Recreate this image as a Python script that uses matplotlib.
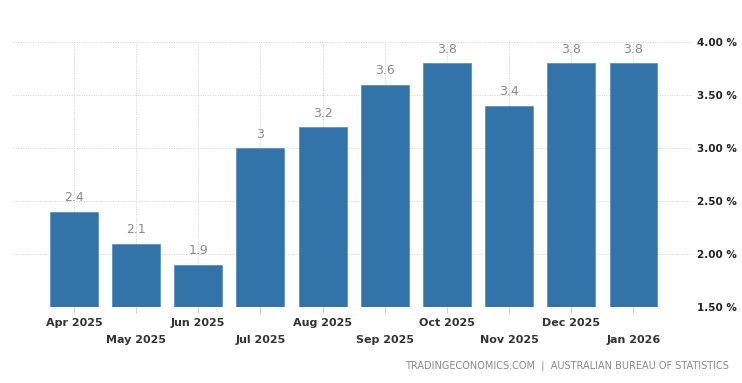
import numpy as np
import matplotlib.pyplot as plt

months = ['Apr 2025', 'May 2025', 'Jun 2025', 'Jul 2025', 'Aug 2025',
          'Sep 2025', 'Oct 2025', 'Nov 2025', 'Dec 2025', 'Jan 2026']
rates = [2.4, 2.1, 1.9, 3.0, 3.2, 3.6, 3.8, 3.4, 3.8, 3.8]
rate_labels = ['2.4', '2.1', '1.9', '3', '3.2', '3.6', '3.8', '3.4', '3.8', '3.8']
yticks = [1.5, 2.0, 2.5, 3.0, 3.5, 4.0]

fig = plt.figure(figsize=(7.42, 3.83), dpi=100)
ax = fig.add_axes([0.0175, 0.198, 0.915, 0.692])

x = np.arange(len(months))
base = 1.5
ax.bar(x, np.array(rates) - base, bottom=base, width=0.77, color='#3274a9',
       edgecolor='#5b93c2', linewidth=0.6, zorder=3)

for xi, v, lab in zip(x, rates, rate_labels):
    ax.text(xi, v + 0.07, lab, ha='center', va='bottom', fontsize=9,
            color='#8a8a8a', zorder=4)

ax.set_xlim(-0.98, 9.94)
ax.set_ylim(1.5, 4.0)
ax.set_yticks(yticks)
ax.set_yticklabels(['%.2f %%' % t for t in yticks])
ax.yaxis.tick_right()
ax.tick_params(axis='y', length=0, pad=4, labelsize=7.5, labelcolor='#222222')

ax.set_xticks(x)
ax.set_xticklabels([m if i % 2 == 0 else '\n' + m for i, m in enumerate(months)])
ax.tick_params(axis='x', length=4, color='#cccccc', labelsize=8,
               labelcolor='#333333', pad=4)
for i, lab in enumerate(ax.get_xticklabels()):
    lab.set_fontweight('semibold')
    if i % 2 == 1:
        lab.set_linespacing(1.9)
for lab in ax.get_yticklabels():
    lab.set_fontweight('semibold')

ax.grid(True, linestyle=(0, (1, 1.5)), color='#cfcfcf', linewidth=0.7, zorder=0)
for s in ax.spines.values():
    s.set_visible(False)

fig.text(0.983, 0.032, 'TRADINGECONOMICS.COM  |  AUSTRALIAN BUREAU OF STATISTICS',
         ha='right', va='bottom', fontsize=7, color='#8a8a8a')

fig.savefig('out.png', dpi=100)
